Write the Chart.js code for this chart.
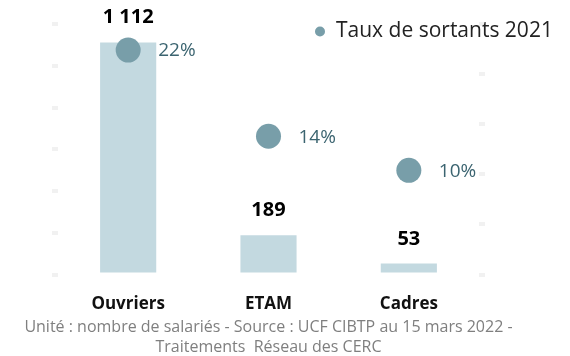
<!DOCTYPE html>
<html lang="fr">
<head>
<meta charset="utf-8">
<script src="https://cdn.jsdelivr.net/npm/chart.js@4"></script>
<style>
    html, body { margin: 0; padding: 0; background: #fff; }
</style>
</head>
<body>
<canvas id="sortantsChart" width="570" height="356"></canvas>
<script>
// categories and values
const categories = ["Ouvriers", "ETAM", "Cadres"];
const salaries = [1112, 189, 53];
const tauxSortants = [0.224, 0.138, 0.104];
const serieLabels = ["Nombre de salariés", "Taux de sortants 2021"];
const footerLines = [
    "Unité : nombre de salariés - Source : UCF CIBTP au 15 mars 2022 -",
    "Traitements  Réseau des CERC"
];

const barColor = "#c3d9e0";
const pointColor = "#789ea9";

Chart.defaults.font.family = "'Open Sans', sans-serif";

// "1112" -> "1 112"
function formatCount(n) {
    return String(n).replace(/\B(?=(\d{3})+(?!\d))/g, " ");
}

// value labels, legend and source line
const annotations = {
    id: "annotations",
    afterDatasetsDraw(chart) {
        const ctx = chart.ctx;
        ctx.save();

        ctx.font = "bold 20px 'Open Sans'";
        ctx.fillStyle = "#000";
        ctx.textAlign = "center";
        ctx.textBaseline = "alphabetic";
        chart.getDatasetMeta(0).data.forEach((bar, i) => {
            ctx.fillText(formatCount(salaries[i]), bar.x, bar.y - 19);
        });

        ctx.font = "19px 'Open Sans'";
        ctx.fillStyle = "#3b6470";
        ctx.textAlign = "left";
        ctx.textBaseline = "middle";
        chart.getDatasetMeta(1).data.forEach((pt, i) => {
            ctx.fillText(Math.round(tauxSortants[i] * 100) + "%", pt.x + 30, pt.y + 1);
        });

        ctx.restore();
    },
    afterDraw(chart) {
        const ctx = chart.ctx;
        const area = chart.chartArea;
        ctx.save();

        // legend
        ctx.fillStyle = pointColor;
        ctx.beginPath();
        ctx.arc(320, 31.5, 5, 0, Math.PI * 2);
        ctx.fill();
        ctx.font = "21px 'Open Sans'";
        ctx.fillStyle = "#222";
        ctx.textAlign = "left";
        ctx.textBaseline = "alphabetic";
        ctx.fillText(chart.data.datasets[1].label, 336, 37);

        // source
        ctx.font = "16px 'Open Sans'";
        ctx.fillStyle = "#7f7f7f";
        ctx.textAlign = "center";
        const cx = (area.left + area.right) / 2;
        footerLines.forEach((line, i) => ctx.fillText(line, cx, 332 + i * 20));

        ctx.restore();
    }
};

const tickMarks = {
    display: true,
    drawOnChartArea: false,
    drawTicks: true,
    tickLength: 6,
    lineWidth: 4,
    color: "#f1f1f1"
};

new Chart(document.getElementById("sortantsChart").getContext("2d"), {
    data: {
        labels: categories,
        datasets: [
            {
                type: "bar",
                label: serieLabels[0],
                data: salaries,
                backgroundColor: barColor,
                yAxisID: "y",
                order: 1,
                barPercentage: 0.5,
                categoryPercentage: 0.8
            },
            {
                type: "line",
                label: serieLabels[1],
                data: tauxSortants,
                showLine: false,
                pointRadius: 12.5,
                pointHoverRadius: 12.5,
                pointBorderWidth: 0,
                pointBackgroundColor: pointColor,
                borderColor: pointColor,
                yAxisID: "y1",
                order: 0
            }
        ]
    },
    options: {
        responsive: false,
        animation: false,
        layout: {
            padding: {left: 52, right: 85, top: 24, bottom: 31}
        },
        scales: {
            x: {
                grid: {display: false},
                border: {display: false},
                ticks: {
                    padding: 11,
                    color: "#111",
                    font: {size: 17, weight: "bold"}
                }
            },
            y: {
                position: "left",
                min: 0,
                max: 1200,
                ticks: {display: false, stepSize: 200},
                grid: tickMarks,
                border: {display: false}
            },
            y1: {
                position: "right",
                min: 0,
                max: 0.25,
                ticks: {display: false, stepSize: 0.05},
                grid: tickMarks,
                border: {display: false}
            }
        },
        plugins: {
            legend: {display: false},
            tooltip: {enabled: false}
        }
    },
    plugins: [annotations]
});
</script>
</body>
</html>
